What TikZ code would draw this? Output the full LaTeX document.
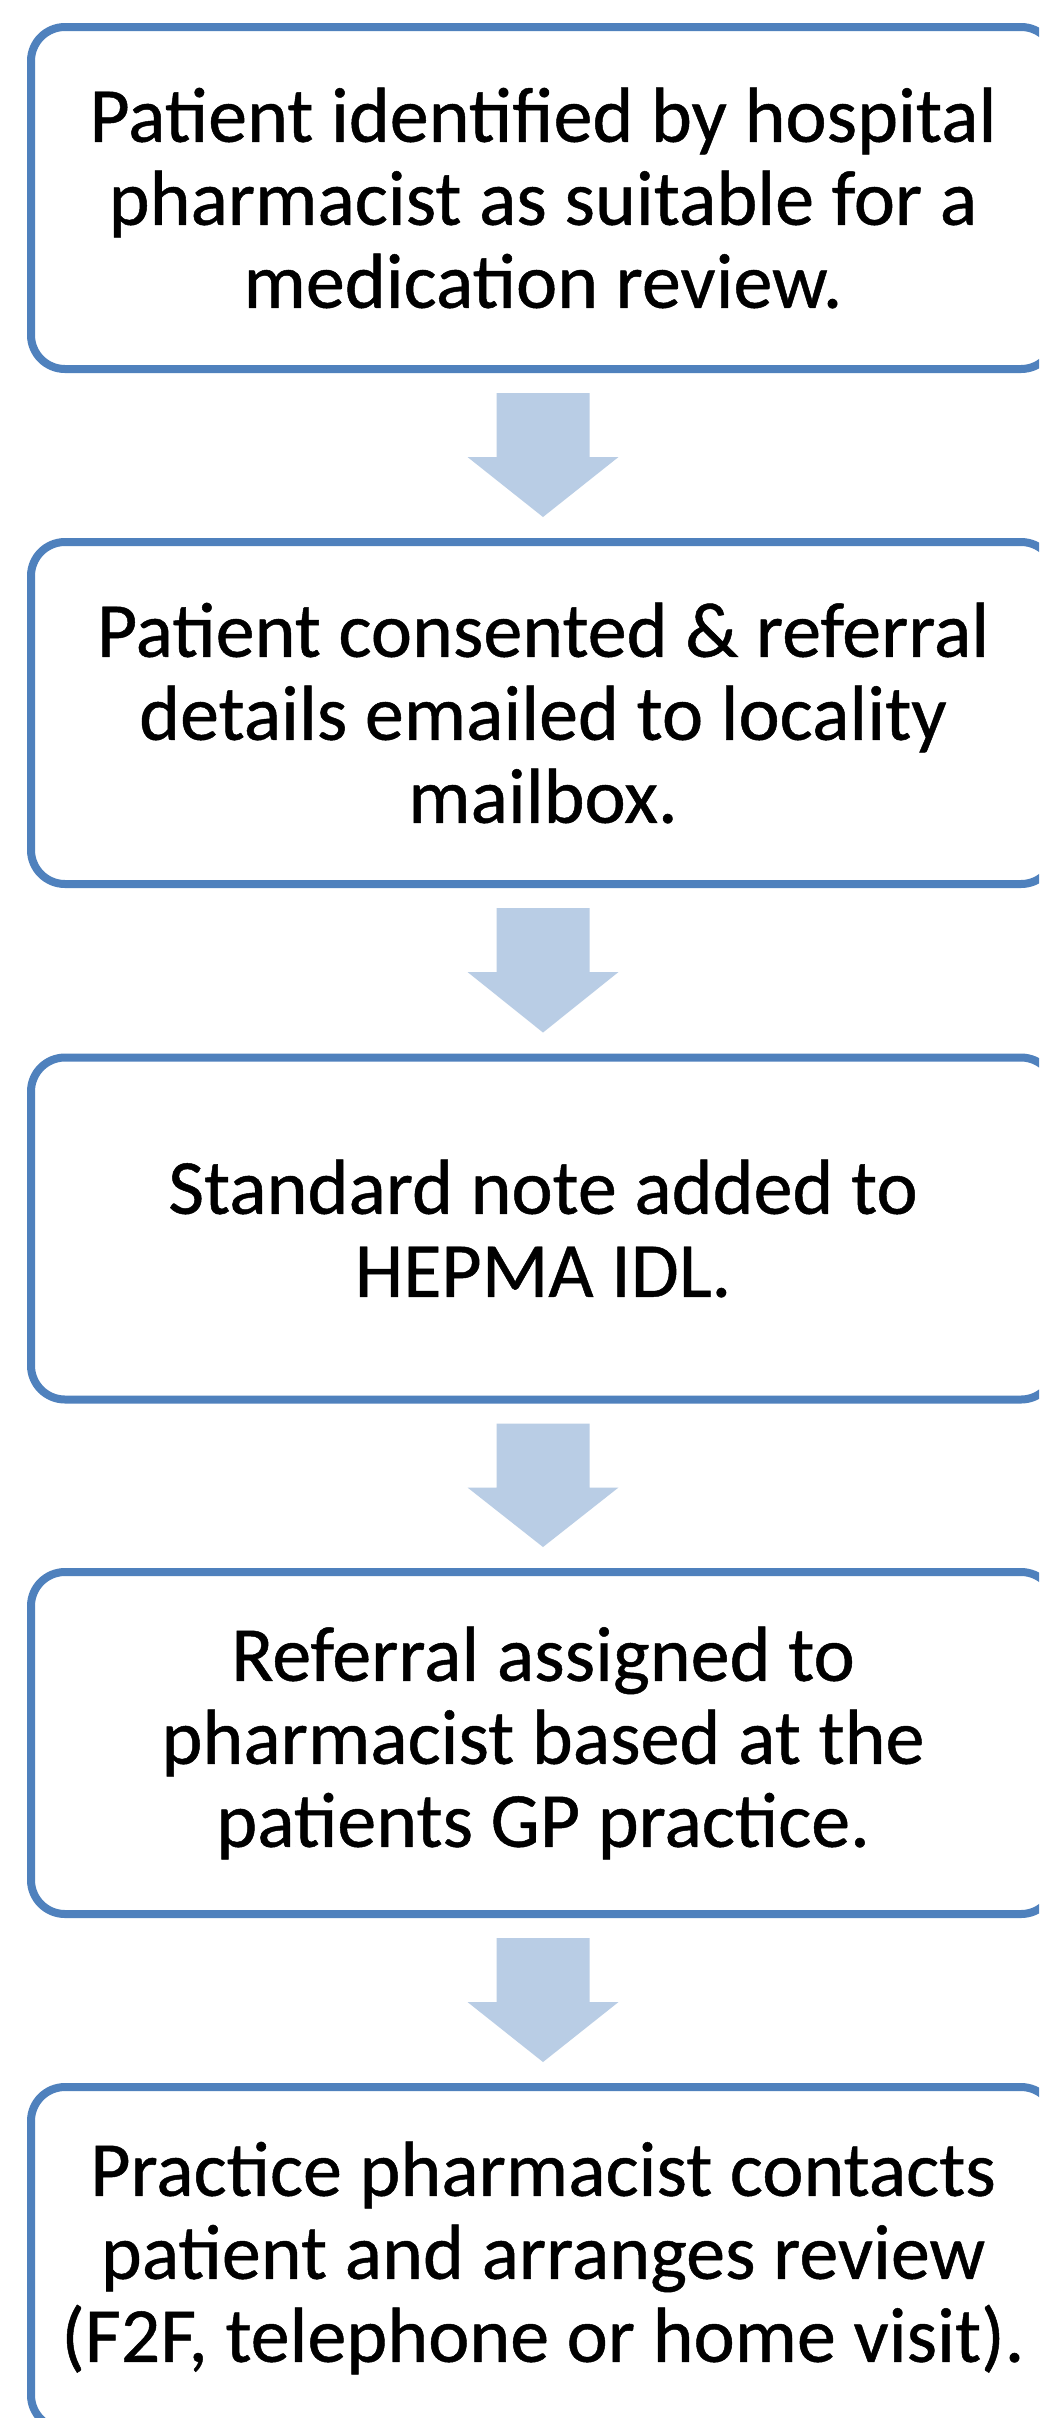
\documentclass[tikz,border=0pt]{standalone}
\usepackage{fontspec}
\setmainfont[FakeBold=0.6]{Carlito}
\usetikzlibrary{calc}
\definecolor{boxline}{HTML}{4F81BD}
\definecolor{arrowfill}{HTML}{B9CDE5}
\begin{document}
\begin{tikzpicture}[x=1pt,y=-1pt,
  stepbox/.style={draw=boxline, line width=8pt, rounded corners=34pt,
    minimum width=1024pt, minimum height=342pt, outer sep=0pt, inner sep=0pt,
    align=center, font=\fontsize{78}{83}\selectfont, fill=white},
  flowarrow/.style={fill=arrowfill}]
\useasboundingbox (0,0) rectangle (1039,2418);
\clip (0,0) rectangle (1039,2418);
\fill[white] (0,0) rectangle (1039,2418);
\node[stepbox] (b1) at (543,198) {Patient identified by hospital\\pharmacist as suitable for a\\medication review.};
\node[stepbox] (b2) at (543,713) {Patient consented \& referral\\details emailed to locality\\mailbox.};
\node[stepbox] (b3) at (543,1228.5) {Standard note added to\\HEPMA IDL.};
\node[stepbox] (b4) at (543,1743) {Referral assigned to\\pharmacist based at the\\patients GP practice.};
\node[stepbox] (b5) at (543,2258) {Practice pharmacist contacts\\patient and arranges review\\(F2F, telephone or home visit).};
\foreach \a/\b in {b1/b2,b2/b3,b3/b4,b4/b5}{
  \fill[flowarrow] ($(\a.south)+(-46.5,24)$) -- ($(\a.south)+(46.5,24)$)
    -- ($(\a.south)+(46.5,88)$) -- ($(\a.south)+(75.5,88)$)
    -- ($(\b.north)+(0,-25)$) -- ($(\a.south)+(-75.5,88)$)
    -- ($(\a.south)+(-46.5,88)$) -- cycle;
}
\end{tikzpicture}
\end{document}
